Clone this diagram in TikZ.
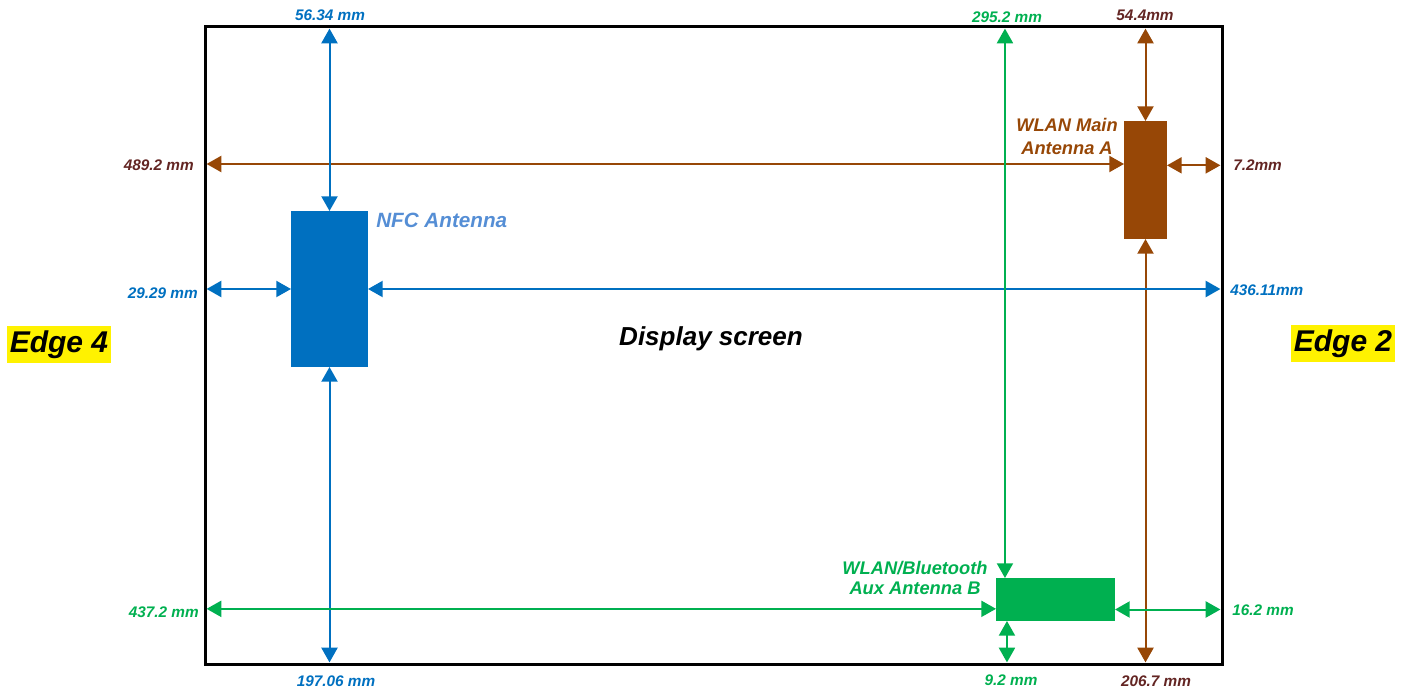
\documentclass[tikz,border=0pt]{standalone}
\usepackage{fontspec}
\setmainfont{Liberation Sans}
\usetikzlibrary{arrows.meta}
\definecolor{cblue}{HTML}{0070C0}
\definecolor{cgreen}{HTML}{00B050}
\definecolor{cbrown}{HTML}{974706}
\definecolor{cmaroon}{HTML}{632523}
\definecolor{clblue}{HTML}{558ED5}
\begin{document}
\begin{tikzpicture}[x=0.75pt,y=-0.75pt,
  lab/.style={font=\fontsize{11.5}{13}\selectfont\bfseries\itshape, inner sep=0pt},
  antlab/.style={font=\fontsize{13.7}{17}\selectfont\bfseries\itshape, inner sep=0pt, align=center},
  dim/.style={{Triangle[length=11pt,width=12pt]}-{Triangle[length=11pt,width=12pt]}, line width=1.5pt},
  ant/.style={inner sep=0pt, outer sep=0pt, draw=none},
  edgebox/.style={fill=yellow, font=\fontsize{22.5}{26}\selectfont\bfseries\itshape, inner xsep=2pt, inner ysep=0pt, minimum height=27.75pt}]
\useasboundingbox (0,0) rectangle (1413,691);
\node[draw, line width=2.25pt, minimum width=762.75pt, minimum height=477.75pt, inner sep=0pt, outer sep=0pt] (frame) at (713.5,345.5) {};
% antennas
\node[ant, fill=cblue, minimum width=57.75pt, minimum height=117pt] (nfc) at (329.5,289) {};
\node[ant, fill=cbrown, minimum width=32.25pt, minimum height=88.5pt] (wma) at (1145.5,180) {};
\node[ant, fill=cgreen, minimum width=89.25pt, minimum height=32.25pt] (aux) at (1055.5,599.5) {};
% helper coordinates
\coordinate (wl) at ([yshift=12pt]wma.west);
\coordinate (wr) at ([yshift=11pt]wma.east);
\coordinate (at) at ([xshift=-37.9pt]aux.north);
\coordinate (ab) at ([xshift=-36.4pt]aux.south);
\coordinate (al) at ([yshift=-7pt]aux.west);
\coordinate (ar) at ([yshift=-7.5pt]aux.east);
% brown
\draw[dim, cbrown, shorten <=1.2pt] (wl -| frame.west) -- (wl);
\draw[dim, cbrown, shorten >=1.2pt] (wr) -- (wr -| frame.east);
\draw[dim, cbrown, shorten <=1.2pt] (wma.north |- frame.north) -- (wma.north);
\draw[dim, cbrown, shorten >=1.2pt] (wma.south) -- (wma.south |- frame.south);
% blue
\draw[dim, cblue, shorten <=1.2pt] (nfc.north |- frame.north) -- (nfc.north);
\draw[dim, cblue, shorten >=1.2pt] (nfc.south) -- (nfc.south |- frame.south);
\draw[dim, cblue, shorten <=1.2pt] (nfc.west -| frame.west) -- (nfc.west);
\draw[dim, cblue, shorten >=1.2pt] (nfc.east) -- (nfc.east -| frame.east);
% green
\draw[dim, cgreen, shorten <=1.2pt] (at |- frame.north) -- (at);
\draw[dim, cgreen, shorten >=1.2pt] (ab) -- (ab |- frame.south);
\draw[dim, cgreen, shorten <=1.2pt] (al -| frame.west) -- (al);
\draw[dim, cgreen, shorten >=1.2pt] (ar) -- (ar -| frame.east);
% dimension labels
\node[lab, cblue] (d1) at (330,15) {56.34 mm};
\node[lab, cgreen] (d2) at (1007,17) {295.2 mm};
\node[lab, cmaroon] (d3) at (1145,15) {54.4mm};
\node[lab, cmaroon, anchor=east] (d4) at (194,165) {489.2 mm};
\node[lab, cmaroon, anchor=west] (d5) at (1233,165) {7.2mm};
\node[lab, cblue, anchor=east] (d6) at (198,293) {29.29 mm};
\node[lab, cblue, anchor=west] (d7) at (1230,290) {436.11mm};
\node[lab, cgreen, anchor=east] (d8) at (199,612) {437.2 mm};
\node[lab, cgreen, anchor=west] (d9) at (1232,610) {16.2 mm};
\node[lab, cblue] (d10) at (336,681) {197.06 mm};
\node[lab, cgreen] (d11) at (1011,680) {9.2 mm};
\node[lab, cmaroon] (d12) at (1156,681) {206.7 mm};
% antenna labels
\node[font=\fontsize{15.5}{18}\selectfont\bfseries\itshape, inner sep=0pt, clblue, anchor=west] (nfcl) at (376,220) {NFC Antenna};
\node[antlab, cbrown] (wmal) at (1067,136.5) {WLAN Main\\Antenna A};
\node[antlab, cgreen, font=\fontsize{13.7}{15.2}\selectfont\bfseries\itshape] (auxl) at (915,578) {WLAN/Bluetooth\\Aux Antenna B};
\node[font=\fontsize{19.5}{22}\selectfont\bfseries\itshape, inner sep=0pt] (disp) at (711,339) {Display screen};
% edges
\node[edgebox] (e4) at (59,344.5) {Edge 4};
\node[edgebox] (e2) at (1343,343.7) {Edge 2};
\end{tikzpicture}
\end{document}
